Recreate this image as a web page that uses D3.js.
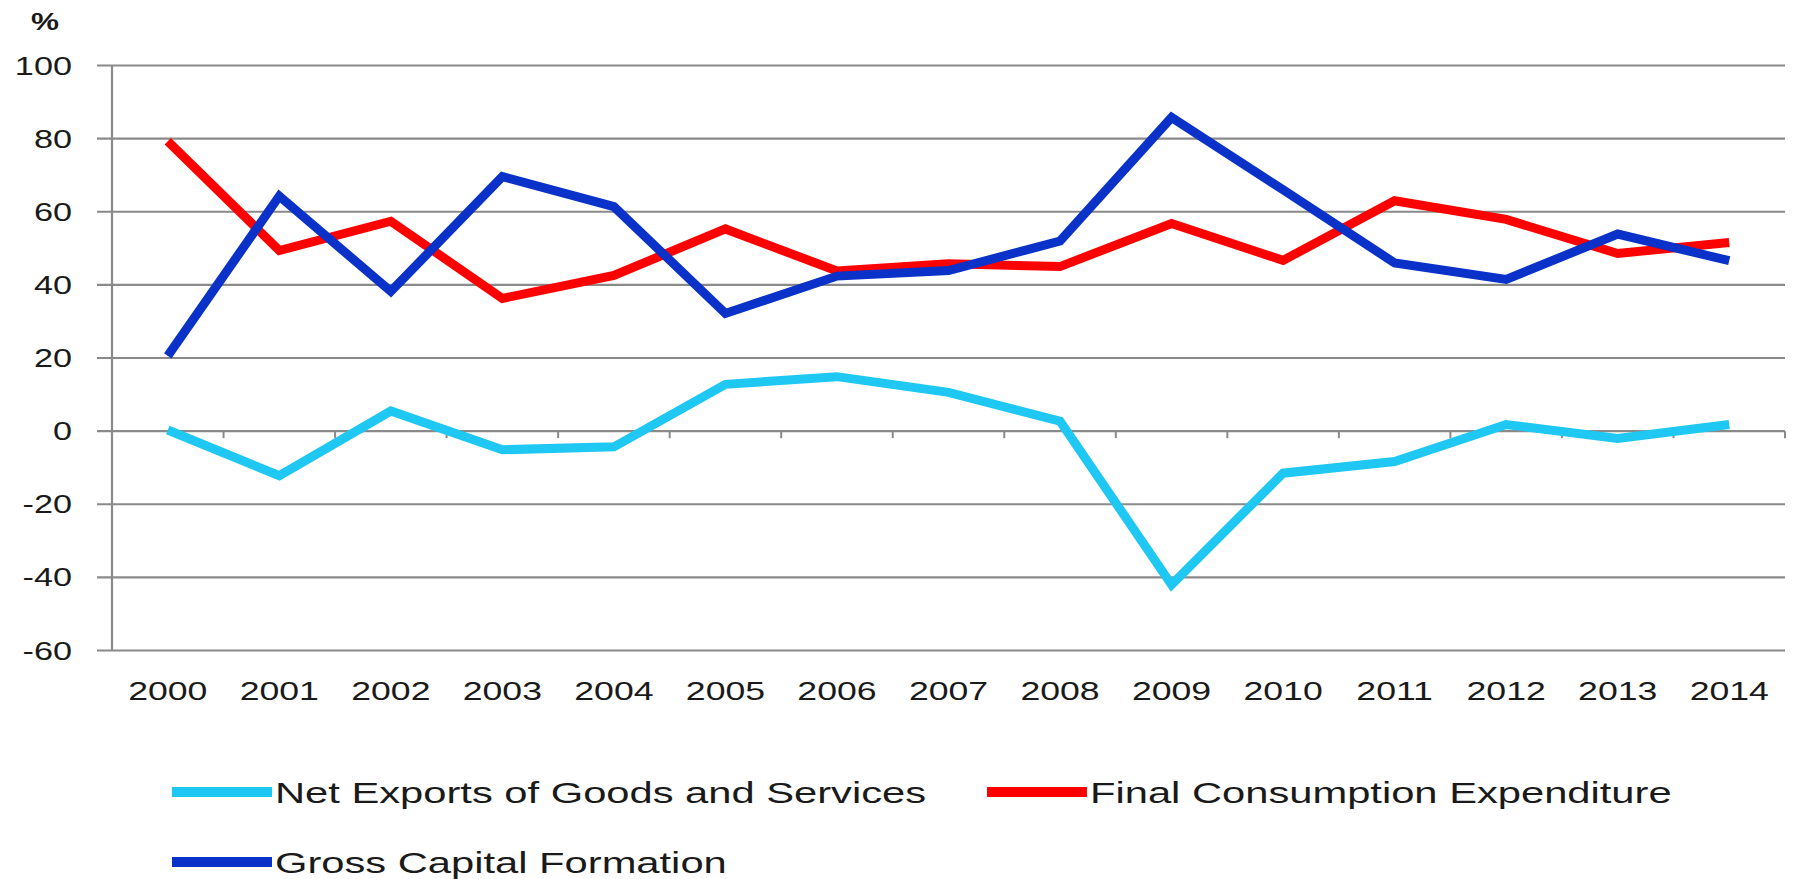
<!DOCTYPE html>
<html>
<head>
<meta charset="utf-8">
<script src="https://cdn.jsdelivr.net/npm/d3@7"></script>
<style>
  html, body { margin: 0; padding: 0; background: #ffffff; }
  svg { display: block; }
  text { font-family: "Liberation Sans", Arial, sans-serif; fill: #1a1a1a; }
</style>
</head>
<body>
<svg id="chart" width="1800" height="879"></svg>
<script>
// ---- data ----
const years = ["2000","2001","2002","2003","2004","2005","2006","2007","2008","2009","2010","2011","2012","2013","2014"];
const netExports  = [0.3, -12.2, 5.5, -5.1, -4.3, 12.8, 14.9, 10.6, 2.7, -42.0, -11.5, -8.3, 1.8, -2.0, 1.8];
const consumption = [79.3, 49.4, 57.4, 36.3, 42.6, 55.3, 43.8, 45.8, 45.0, 56.8, 46.7, 63.0, 57.9, 48.6, 51.6];
const capital     = [20.6, 64.3, 38.2, 69.6, 61.4, 32.2, 42.4, 43.9, 52.0, 85.8, 66.0, 46.0, 41.5, 53.9, 46.6];
const yTicks = [-60, -40, -20, 0, 20, 40, 60, 80, 100];
const seriesNames = ["Net Exports of Goods and Services", "Final Consumption Expenditure", "Gross Capital Formation"];
const unitLabel = "%";

const colors = ["#1ec8f2", "#ff0000", "#0a32c8"];
const series = [netExports, consumption, capital];

// ---- layout ----
const svg = d3.select("#chart");
const plotLeft = 112, plotRight = 1785, plotTop = 65.5, plotBottom = 650.5;
const SX = 1.37; // horizontal text stretch

const x = d3.scaleBand().domain(years).range([plotLeft, plotRight]).padding(0);
const y = d3.scaleLinear().domain([-60, 100]).range([plotBottom, plotTop]);
const cx = d => x(d) + x.bandwidth() / 2;

// gridlines (with left tick extension)
svg.append("g").selectAll("line").data(yTicks).join("line")
  .attr("x1", plotLeft - 15).attr("x2", plotRight)
  .attr("y1", d => y(d)).attr("y2", d => y(d))
  .attr("stroke", "#8a8a8a").attr("stroke-width", 2.2);

// vertical axis
svg.append("line")
  .attr("x1", plotLeft).attr("x2", plotLeft).attr("y1", plotTop).attr("y2", plotBottom)
  .attr("stroke", "#8a8a8a").attr("stroke-width", 2.2);

// category ticks on zero line
const boundaries = years.map(d => x(d) + x.bandwidth());
svg.append("g").selectAll("line").data(boundaries).join("line")
  .attr("x1", d => d).attr("x2", d => d)
  .attr("y1", y(0)).attr("y2", y(0) + 7)
  .attr("stroke", "#8a8a8a").attr("stroke-width", 2);

// y labels
svg.append("g").selectAll("text").data(yTicks).join("text")
  .attr("transform", d => `translate(72,${y(d) + 9}) scale(${SX},1)`)
  .attr("text-anchor", "end")
  .attr("font-size", 25)
  .text(d => d);

// unit label
svg.append("text")
  .attr("transform", `translate(45,30) scale(${SX},1)`)
  .attr("text-anchor", "middle")
  .attr("font-size", 23)
  .attr("font-weight", "bold")
  .text(unitLabel);

// x labels
svg.append("g").selectAll("text").data(years).join("text")
  .attr("transform", d => `translate(${cx(d)},700) scale(${SX},1)`)
  .attr("text-anchor", "middle")
  .attr("font-size", 26)
  .text(d => d);

// lines
const line = d3.line().x((d, i) => cx(years[i])).y(d => y(d));
series.forEach((s, k) => {
  svg.append("path")
    .datum(s)
    .attr("d", line)
    .attr("fill", "none")
    .attr("stroke", colors[k])
    .attr("stroke-width", 9)
    .attr("stroke-linejoin", "miter")
    .attr("stroke-miterlimit", 3);
});

// legend
const legendPos = [
  {sx: 172, ty: 792},
  {sx: 987, ty: 792},
  {sx: 172, ty: 862}
];
legendPos.forEach((p, k) => {
  svg.append("line")
    .attr("x1", p.sx).attr("x2", p.sx + 100)
    .attr("y1", p.ty).attr("y2", p.ty)
    .attr("stroke", colors[k]).attr("stroke-width", 10);
  svg.append("text")
    .attr("transform", `translate(${p.sx + 103},${p.ty + 11}) scale(1.39,1)`)
    .attr("font-size", 30)
    .text(seriesNames[k]);
});
</script>
</body>
</html>
